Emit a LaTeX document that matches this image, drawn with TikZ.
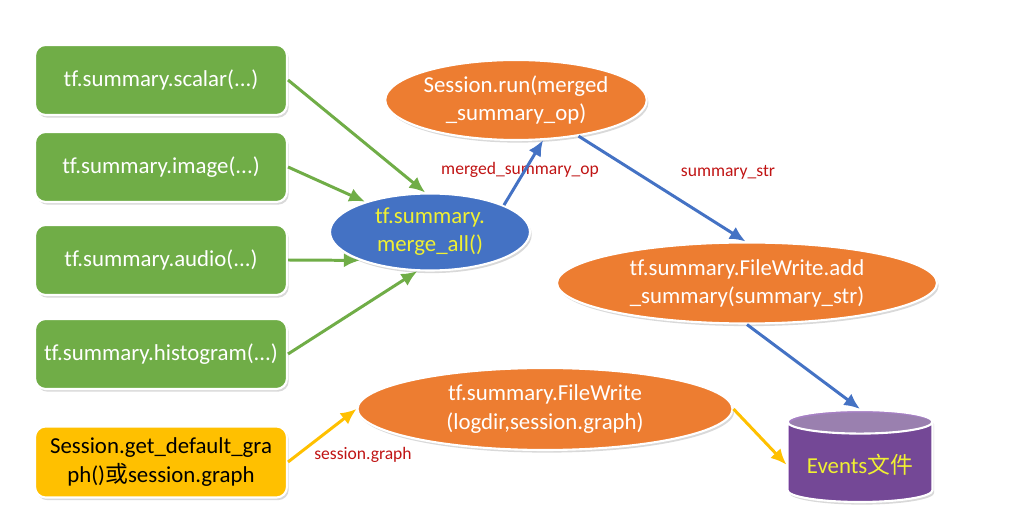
\documentclass[tikz,border=0pt]{standalone}
\usepackage{fontspec}
\setmainfont[Ligatures=NoCommon]{Carlito}
\newfontfamily\cjk{Noto Sans CJK SC}
\usetikzlibrary{shapes.geometric,shadows,arrows.meta}

\definecolor{boxgreen}{RGB}{112,173,71}
\definecolor{opOrange}{RGB}{237,125,49}
\definecolor{opBlue}{RGB}{68,114,196}
\definecolor{graphGold}{RGB}{255,192,0}
\definecolor{evPurple}{RGB}{112,48,160}
\definecolor{evTop}{RGB}{166,128,196}
\definecolor{lblRed}{RGB}{192,20,20}
\definecolor{txtYellow}{RGB}{240,240,50}

\tikzset{
	bigfont/.style={font=\fontsize{13}{16}\selectfont},
	shade/.style={drop shadow={shadow xshift=1pt, shadow yshift=-1.5pt, opacity=0.3}},
	sumbox/.style={rectangle, rounded corners=6pt, draw=white, line width=1.2pt, fill=boxgreen,
		text=white, minimum width=5.04cm, minimum height=1.4cm, align=center, bigfont, shade},
	opell/.style={ellipse, draw=white, line width=1.2pt, fill=opOrange, text=white,
		inner sep=0pt, align=center, bigfont, shade},
	lbl/.style={text=lblRed, font=\fontsize{10}{12}\selectfont},
	flow/.style={-{Latex[length=9pt,width=8pt]}, line width=1.7pt}
}

\begin{document}
\begin{tikzpicture}[x=0.02cm, y=-0.02cm]
	\useasboundingbox (0,0) rectangle (1009,520);

	% summary ops
	\node[sumbox] (scalar) at (161,80) {tf.summary.scalar(...)};
	\node[sumbox] (image) at (161,167) {tf.summary.image(...)};
	\node[sumbox] (audio) at (161,260) {tf.summary.audio(...)};
	\node[sumbox] (hist) at (161,354) {tf.summary.histogram(...)};
	\node[sumbox, fill=graphGold, text=black, minimum height=1.42cm] (getgraph) at (161,462)
		{Session.get\_default\_gra\\ph(){\cjk 或}session.graph};

	% merge and run
	\node[opell, fill=opBlue, text=txtYellow, minimum width=4cm, minimum height=1.54cm] (merge) at (430,232)
		{tf.summary.\\merge\_all()};
	\node[opell, minimum width=4.96cm, minimum height=1.6cm] (run) at (516,100)
		{Session.run(merged\\\_summary\_op)};
	\node[opell, minimum width=7.6cm, minimum height=1.62cm] (add) at (747,283)
		{tf.summary.FileWrite.add\\\_summary(summary\_str)};
	\node[opell, minimum width=7.5cm, minimum height=1.64cm] (fw) at (545,409)
		{tf.summary.FileWrite\\(logdir,session.graph)};

	% events file
	\node[cylinder, shape border rotate=90, aspect=0.2, draw=white, line width=1.2pt,
		cylinder uses custom fill, cylinder body fill=evPurple, cylinder end fill=evTop,
		minimum width=2.9cm, minimum height=1.84cm, text=txtYellow, bigfont, shade,
		anchor=shape center] (events) at (860,456)
		{Events{\cjk 文件}};

	% labels
	\node[lbl] (opname) at (520,170) {merged\_summary\_op};
	\node[lbl] (strname) at (728,172) {summary\_str};
	\node[lbl] (graphname) at (363,455) {session.graph};

	% connectors
	\draw[flow, boxgreen] (scalar.east) -- (merge.97);
	\draw[flow, boxgreen] (image.east) -- (merge.155);
	\draw[flow, boxgreen] (audio.east) -- (merge.202);
	\draw[flow, boxgreen] (hist.east) -- (merge.252);
	\draw[flow, opBlue] (merge.20) -- (run.304);
	\draw[flow, opBlue] (run.330) -- (add.92);
	\draw[flow, opBlue] (add.south) -- (events.90);
	\draw[flow, graphGold] (getgraph.east) -- (fw.west);
	\draw[flow, graphGold] (fw.east) -- (events.180);
\end{tikzpicture}
\end{document}
